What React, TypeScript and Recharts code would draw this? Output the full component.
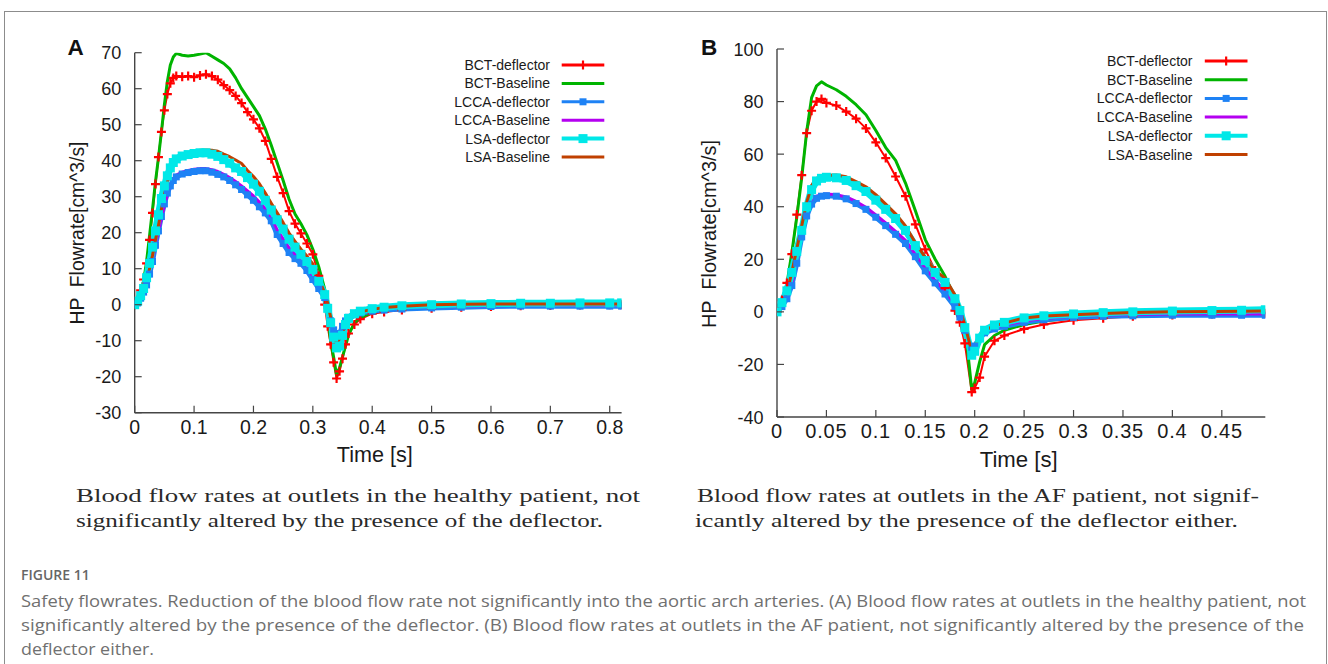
import React from "react";
import { LineChart, Line, XAxis, YAxis } from "recharts";

// ---- panel A: healthy patient ----
const timeA = [
  0, 0.005, 0.01, 0.015, 0.02, 0.025, 0.03, 0.035, 0.04, 0.045, 0.05, 0.055, 0.06, 0.065, 0.07,
  0.08, 0.09, 0.1, 0.11, 0.12, 0.13, 0.14, 0.15, 0.16, 0.17, 0.18, 0.19, 0.2, 0.21, 0.22, 0.23,
  0.24, 0.25, 0.26, 0.27, 0.28, 0.29, 0.3, 0.31, 0.32, 0.325, 0.33, 0.335, 0.34, 0.345, 0.35,
  0.355, 0.36, 0.37, 0.38, 0.4, 0.42, 0.45, 0.5, 0.55, 0.6, 0.65, 0.7, 0.75, 0.8, 0.82,
];
const bctDeflectorA = [
  0, 1.5, 4, 7, 11.5, 18, 25.5, 33.5, 41, 48, 54, 58.5, 61.5, 63, 63.5, 63.3, 63.5, 63.2, 63.7, 64,
  63.5, 62.5, 61, 59.6, 58, 56, 53.5, 51.5, 49, 45.5, 40.5, 35.5, 31, 26, 22.5, 19.8, 17, 14, 8, 0,
  -6, -11, -16, -20.5, -18.5, -15, -11, -8, -5.5, -4, -2.5, -2, -1.5, -1, -0.7, -0.5, -0.3, -0.2,
  -0.1, 0, 0,
];
const bctBaselineA = [
  0, 1.5, 3.8, 6.5, 12, 19.2, 26.5, 34.2, 40.8, 48, 55.6, 62, 66.6, 68.8, 69.8, 69.3, 69.1, 69.3,
  69.6, 70, 69, 68, 67, 65.5, 63, 60, 57.5, 55, 52.5, 48.8, 44.3, 39.4, 34.5, 29.3, 25.2, 22.5,
  19.4, 15.4, 10.5, 4.3, -3, -10, -14.5, -19.5, -17.5, -14.5, -11.5, -8.5, -5, -3.5, -2.2, -1.6,
  -1.1, -0.6, -0.3, -0.1, 0, 0.1, 0.1, 0.2, 0.2,
];
const lccaDeflectorA = [
  0, 0.5, 1.8, 3.5, 5.5, 8.5, 12, 16.5, 20.5, 24.5, 28, 31, 33, 34.5, 35.5, 36.3, 36.7, 37, 37.2,
  37.2, 36.8, 36.2, 35.5, 34.5, 33.3, 32, 30.5, 29, 27.2, 25.5, 23.3, 19.5, 17, 14.5, 12.8, 11.5,
  9.5, 7, 4.5, 2, -1, -4.5, -7, -8, -8, -6, -4.5, -3.5, -2.8, -2.3, -1.8, -1.5, -1.2, -0.9, -0.7,
  -0.5, -0.4, -0.4, -0.4, -0.4, -0.4,
];
const lccaBaselineA = [
  0, 0.8, 2, 3.5, 5.5, 8.5, 12.5, 16.5, 20.3, 24, 27.5, 30.5, 33, 35, 36, 36.8, 37.3, 37.6, 37.8,
  37.8, 37.5, 37, 36.2, 35.3, 34.2, 33, 31.6, 30.2, 28.5, 26.7, 24.3, 20.8, 18.3, 15.8, 14, 12.8,
  10.8, 8, 5.5, 3, 0.4, -3.5, -7, -9, -8.5, -6.5, -5, -3.8, -2.8, -2.2, -1.5, -1.1, -0.8, -0.5,
  -0.4, -0.3, -0.2, -0.2, -0.2, -0.2, -0.2,
];
const lsaDeflectorA = [
  0, 1, 2.5, 4.5, 7.5, 11.5, 16, 20.5, 25, 29.5, 33, 35.8, 38, 39.5, 40.5, 41.3, 41.7, 42, 42.2,
  42.2, 41.8, 41.2, 40.3, 39.3, 38, 37, 35.3, 33.5, 31.5, 29, 26.3, 23.6, 21, 18.2, 16, 14, 12,
  9.8, 6.5, 2.8, -1, -5, -9, -12, -11.5, -8.5, -5.5, -3.8, -2.5, -1.8, -1.1, -0.7, -0.3, 0, 0.2,
  0.3, 0.4, 0.4, 0.5, 0.5, 0.5,
];
const lsaBaselineA = [
  0, 1.8, 3, 4.2, 6.5, 10, 13.7, 18, 22, 26.5, 30.5, 34, 37, 38.8, 40, 41.5, 42.2, 42.6, 42.9, 43,
  42.9, 42.6, 41.8, 41.1, 40.2, 39.2, 37.3, 35.6, 33.6, 31, 28.2, 25.5, 22.8, 19.9, 17.6, 15.4,
  13.5, 11.3, 7.4, 3.2, 0.4, -3.5, -7.5, -10.7, -9.5, -7.8, -5.8, -4.3, -2.8, -2, -1.3, -0.8,
  -0.4, 0, 0.1, 0.2, 0.2, 0.2, 0.2, 0.2, 0.2,
];
const xTicksA = [0, 0.1, 0.2, 0.3, 0.4, 0.5, 0.6, 0.7, 0.8];
const yTicksA = [-30, -20, -10, 0, 10, 20, 30, 40, 50, 60, 70];

// ---- panel B: AF patient ----
const timeB = [
  0, 0.005, 0.01, 0.015, 0.02, 0.025, 0.03, 0.035, 0.04, 0.045, 0.05, 0.06, 0.07, 0.08, 0.09,
  0.1, 0.11, 0.12, 0.13, 0.14, 0.15, 0.16, 0.17, 0.18, 0.185, 0.19, 0.197, 0.2, 0.205, 0.21,
  0.22, 0.23, 0.25, 0.27, 0.3, 0.33, 0.36, 0.4, 0.44, 0.47, 0.494,
];
const bctDeflectorB = [
  0, 4.5, 11, 22, 37, 52, 68, 76.5, 80, 81, 79.5, 78.5, 76.2, 73.5, 69.8, 64.5, 58.5, 51.5, 44,
  33.3, 23.8, 15.7, 9, 0.5, -4, -12, -30.5, -29, -25, -17, -11, -9, -6.5, -4.8, -3.2, -2.4, -1.7,
  -1.2, -0.8, -0.6, -0.5,
];
const bctBaselineB = [
  0, 4.3, 10.5, 22.5, 36, 51, 68.5, 81.5, 86, 87.5, 86.3, 84.5, 82, 78.8, 75, 69, 62.5, 57.6, 49,
  38.5, 27.5, 20, 13.5, 5.5, 1, -4.5, -29.5, -27, -19, -12.5, -9, -7, -4.8, -3.5, -2.2, -1.6,
  -1.2, -0.8, -0.5, -0.4, -0.3,
];
const lccaDeflectorB = [
  0, 2, 5, 10, 18.5, 28.5, 36.5, 41, 43.2, 44, 44.2, 44, 43, 41.2, 39, 36, 32.8, 29.5, 26, 21,
  15.6, 11, 6.8, 2, -2, -7, -14.5, -13, -10, -8, -6.5, -5.5, -4, -3, -2.1, -1.7, -1.5, -1.3,
  -1.3, -1.3, -1.3,
];
const lccaBaselineB = [
  0, 2.5, 5.5, 10.5, 19.5, 30, 37.7, 42, 44, 44.6, 44.8, 44.6, 43.7, 42, 39.8, 36.9, 33.8, 30.6,
  27.2, 22, 16.8, 12, 7.8, 3, -1, -6, -14, -12.5, -9.5, -7.5, -6, -5, -3.5, -2.5, -1.6, -1.2, -1,
  -0.8, -0.8, -0.8, -0.8,
];
const lsaDeflectorB = [
  0, 3.5, 8, 15, 23, 31, 40, 46.5, 49.8, 50.8, 51.2, 51, 50, 48, 45.8, 42.5, 39, 35.5, 31, 25.2,
  19.5, 15, 11.2, 5, 0.5, -6, -16.5, -15, -10, -7, -5, -4, -2.3, -1.5, -0.8, -0.3, 0, 0.3, 0.5,
  0.6, 0.8,
];
const lsaBaselineB = [
  0, 3, 7.3, 15, 24, 32.7, 41.5, 48, 50.8, 51.6, 52, 52.1, 51.4, 49.6, 47.6, 44.6, 41, 37.3, 32.7,
  26.3, 20.7, 15.8, 12.8, 6.5, 1.3, -5, -15, -13, -9.5, -7, -5.3, -4.3, -2.3, -1.6, -1.1, -0.6,
  -0.2, 0, 0.1, 0.2, 0.3,
];
const xTicksB = [0, 0.05, 0.1, 0.15, 0.2, 0.25, 0.3, 0.35, 0.4, 0.45];
const yTicksB = [-40, -20, 0, 20, 40, 60, 80, 100];

// gnuplot-ish default line types, plotted in legend order
const SERIES = [
  { key: "bctDef", name: "BCT-deflector", color: "#ff0000", mark: "plus", width: 2, legendWidth: 3, size: 9 },
  { key: "bctBase", name: "BCT-Baseline", color: "#00b400", mark: "none", width: 3, legendWidth: 3, size: 0 },
  { key: "lccaDef", name: "LCCA-deflector", color: "#1e82f5", mark: "square", width: 5, legendWidth: 3, size: 7 },
  { key: "lccaBase", name: "LCCA-Baseline", color: "#b400f0", mark: "none", width: 3, legendWidth: 3, size: 0 },
  { key: "lsaDef", name: "LSA-deflector", color: "#00e8e8", mark: "square", width: 7, legendWidth: 4, size: 9 },
  { key: "lsaBase", name: "LSA-Baseline", color: "#c04000", mark: "none", width: 3, legendWidth: 3, size: 0 },
];

const FRAME = "#454545";
const SANS = '"Liberation Sans", Arial, Helvetica, sans-serif';

const buildRows = (time: number[], cols: number[][]) =>
  time.map((t, i) => {
    const row: any = { t };
    SERIES.forEach((s, j) => (row[s.key] = cols[j][i]));
    return row;
  });

const rowsA = buildRows(timeA, [bctDeflectorA, bctBaselineA, lccaDeflectorA, lccaBaselineA, lsaDeflectorA, lsaBaselineA]);
const rowsB = buildRows(timeB, [bctDeflectorB, bctBaselineB, lccaDeflectorB, lccaBaselineB, lsaDeflectorB, lsaBaselineB]);

const fmt = (v: number) => String(Number(v.toFixed(3)));

const markDot = (s: any) => (p: any) => {
  const { cx, cy, index } = p;
  if (cx == null || cy == null) return <g key={index} />;
  if (s.mark === "plus") {
    const h = s.size / 2;
    return (
      <path key={index} d={`M${cx - h},${cy}h${s.size}M${cx},${cy - h}v${s.size}`}
        stroke={s.color} strokeWidth={2.2} fill="none" />
    );
  }
  return <rect key={index} x={cx - s.size / 2} y={cy - s.size / 2} width={s.size} height={s.size} fill={s.color} />;
};

const bottomTick = (fontSize: number, spacing: number) => (p: any) => (
  <g>
    <line x1={p.x} x2={p.x} y1={p.y} y2={p.y - 7} stroke={FRAME} strokeWidth={1.2} />
    <text x={p.x} y={p.y + 21} textAnchor="middle" fontSize={fontSize} letterSpacing={spacing}
      fontFamily={SANS} fill="#1a1a1a">{fmt(p.payload.value)}</text>
  </g>
);
const topTick = (p: any) => (
  <line x1={p.x} x2={p.x} y1={p.y} y2={p.y + 7} stroke={FRAME} strokeWidth={1.2} />
);
const leftTick = (p: any) => (
  <g>
    <line x1={p.x} x2={p.x + 7} y1={p.y} y2={p.y} stroke={FRAME} strokeWidth={1.2} />
    <text x={p.x - 13.5} y={p.y + 6.5} textAnchor="end" fontSize={18} fontFamily={SANS}
      fill="#1a1a1a">{fmt(p.payload.value)}</text>
  </g>
);
const rightTick = (p: any) => (
  <line x1={p.x} x2={p.x - 7} y1={p.y} y2={p.y} stroke={FRAME} strokeWidth={1.2} />
);

const axisLine = { stroke: FRAME, strokeWidth: 1.4 };

function Panel(props: any) {
  const { rows, xMax, xTicks, yMin, yMax, yTicks, margin, left, xFont, xSpacing } = props;
  return (
    <div style={{ position: "absolute", left, top: 0 }}>
      <LineChart width={664} height={480} data={rows} margin={margin}>
        <XAxis type="number" dataKey="t" domain={[0, xMax]} ticks={xTicks} interval={0}
          allowDataOverflow height={30} tickSize={0} tickMargin={0} tickLine={false}
          axisLine={axisLine} tick={bottomTick(xFont, xSpacing)} />
        <XAxis xAxisId="top" orientation="top" type="number" dataKey="t" domain={[0, xMax]}
          ticks={xTicks} interval={0} allowDataOverflow height={0} tickSize={0} tickMargin={0}
          tickLine={false} axisLine={axisLine} tick={topTick} />
        <YAxis type="number" domain={[yMin, yMax]} ticks={yTicks} interval={0} allowDataOverflow
          width={60} tickSize={0} tickMargin={0} tickLine={false} axisLine={axisLine} tick={leftTick} />
        <YAxis yAxisId="right" orientation="right" type="number" domain={[yMin, yMax]}
          ticks={yTicks} interval={0} allowDataOverflow width={0} tickSize={0} tickMargin={0}
          tickLine={false} axisLine={axisLine} tick={rightTick} />
        {SERIES.map((s) => (
          <Line key={s.key} dataKey={s.key} name={s.name} type="linear" stroke={s.color}
            strokeWidth={s.width} strokeLinejoin="round"
            dot={s.mark === "none" ? false : markDot(s)} activeDot={false}
            isAnimationActive={false} />
        ))}
      </LineChart>
    </div>
  );
}

function Legend(props: any) {
  const { textRight, x1, x2, y0, step } = props;
  const cx = (x1 + x2) / 2;
  return (
    <g>
      {SERIES.map((s, i) => {
        const y = y0 + i * step;
        return (
          <g key={s.key}>
            <text x={textRight} y={y + 5} textAnchor="end" fontSize={14} fontFamily={SANS} fill="#1a1a1a">
              {s.name}
            </text>
            <line x1={x1} x2={x2} y1={y} y2={y} stroke={s.color} strokeWidth={s.legendWidth} />
            {s.mark === "plus" && (
              <line x1={cx} x2={cx} y1={y - 4.5} y2={y + 4.5} stroke={s.color} strokeWidth={2.2} />
            )}
            {s.mark === "square" && (
              <rect x={cx - s.size / 2} y={y - s.size / 2} width={s.size} height={s.size} fill={s.color} />
            )}
          </g>
        );
      })}
    </g>
  );
}

const SERIF = '"Liberation Serif", "DejaVu Serif", serif';
const CAPTION_FONT = '"Open Sans", "Noto Sans", sans-serif';

export default function App() {
  return (
    <div style={{ position: "absolute", left: 0, top: 0, width: 1328, height: 664, background: "#fff", overflow: "hidden" }}>
      <div style={{ position: "absolute", left: 4, top: 11, width: 1321, height: 700, border: "1px solid #8c8c8c" }} />
      <Panel rows={rowsA} xMax={0.82} xTicks={xTicksA} yMin={-30} yMax={70} yTicks={yTicksA}
        left={0} xFont={19.5} xSpacing={0}
        margin={{ top: 52.7, right: 42.4, bottom: 37.3, left: 74.7 }} />
      <Panel rows={rowsB} xMax={0.494} xTicks={xTicksB} yMin={-40} yMax={100} yTicks={yTicksB}
        left={664} xFont={20} xSpacing={0.8}
        margin={{ top: 49, right: 62.7, bottom: 33, left: 53 }} />
      <svg width={1328} height={664} style={{ position: "absolute", left: 0, top: 0, pointerEvents: "none" }}>
        <text x={67.5} y={55} fontSize={22.5} fontWeight="bold" fontFamily={SANS} fill="#111">A</text>
        <text x={701} y={55} fontSize={22.5} fontWeight="bold" fontFamily={SANS} fill="#111">B</text>
        <text transform="translate(83.9,233) rotate(-90)" textAnchor="middle" fontSize={21}
          fontFamily={SANS} fill="#1a1a1a" textLength={183} lengthAdjust="spacingAndGlyphs"
          style={{ whiteSpace: "pre" }}>HP  Flowrate[cm^3/s]</text>
        <text transform="translate(715.7,234) rotate(-90)" textAnchor="middle" fontSize={21}
          fontFamily={SANS} fill="#1a1a1a" textLength={188} lengthAdjust="spacingAndGlyphs"
          style={{ whiteSpace: "pre" }}>HP  Flowrate[cm^3/s]</text>
        <text x={374.8} y={461.7} textAnchor="middle" fontSize={22} fontFamily={SANS} fill="#1a1a1a"
          textLength={76} lengthAdjust="spacingAndGlyphs">Time [s]</text>
        <text x={1018.7} y={466.7} textAnchor="middle" fontSize={22} fontFamily={SANS} fill="#1a1a1a"
          textLength={78} lengthAdjust="spacingAndGlyphs">Time [s]</text>
        <Legend textRight={550} x1={561.7} x2={604.3} y0={65} step={18.4} />
        <Legend textRight={1192.5} x1={1204.8} x2={1247.5} y0={61} step={18.7} />

        <g fontFamily={SERIF} fontSize={18.5} fill="#2a2a2a">
          <text x={76} y={502} textLength={564} lengthAdjust="spacingAndGlyphs">Blood flow rates at outlets in the healthy patient, not</text>
          <text x={76} y={527} textLength={527} lengthAdjust="spacingAndGlyphs">significantly altered by the presence of the deflector.</text>
          <text x={697} y={502} textLength={562} lengthAdjust="spacingAndGlyphs">Blood flow rates at outlets in the AF patient, not signif-</text>
          <text x={695} y={527} textLength={543} lengthAdjust="spacingAndGlyphs">icantly altered by the presence of the deflector either.</text>
        </g>
        <text x={21} y={580} fontSize={14} fontWeight={600} fontFamily={CAPTION_FONT} fill="#666">FIGURE 11</text>
        <g fontFamily={CAPTION_FONT} fontSize={17} fill="#707070">
          <text x={21} y={607} textLength={1285} lengthAdjust="spacingAndGlyphs">Safety flowrates. Reduction of the blood flow rate not significantly into the aortic arch arteries. (A) Blood flow rates at outlets in the healthy patient, not</text>
          <text x={21} y={631} textLength={1283} lengthAdjust="spacingAndGlyphs">significantly altered by the presence of the deflector. (B) Blood flow rates at outlets in the AF patient, not significantly altered by the presence of the</text>
          <text x={21} y={655} textLength={133} lengthAdjust="spacingAndGlyphs">deflector either.</text>
        </g>
      </svg>
    </div>
  );
}
